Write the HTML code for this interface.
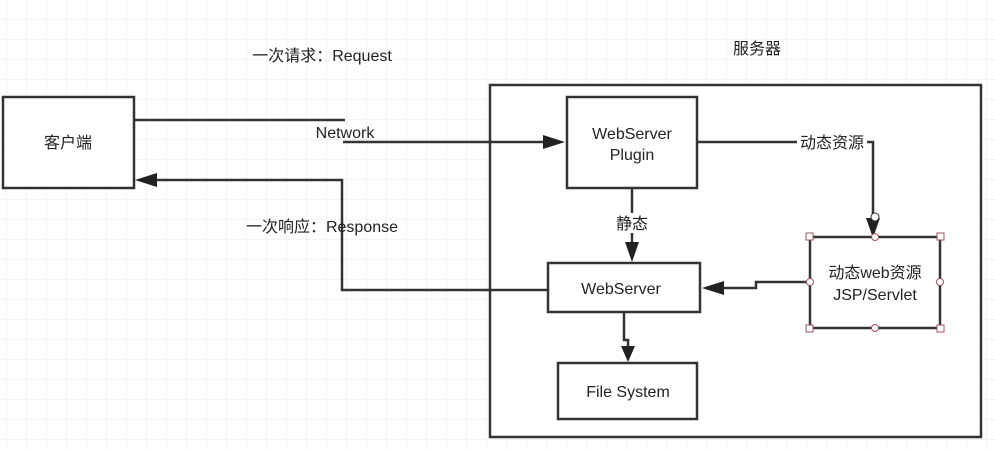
<!DOCTYPE html>
<html><head><meta charset="utf-8"><style>
html,body{margin:0;padding:0;background:#fff}
svg{display:block}
text{font-family:"Liberation Sans","Noto Sans CJK SC",sans-serif;font-size:16px;fill:#222}
</style></head><body>
<svg width="995" height="449" viewBox="0 0 995 449" xmlns="http://www.w3.org/2000/svg">
<defs>
<pattern id="g" width="20" height="20" patternUnits="userSpaceOnUse" x="7" y="0">
<path d="M20 0V20M0 20H20" fill="none" stroke="#e8e8e8" stroke-width="1"/>
</pattern>
<marker id="a" viewBox="0 0 10 10" refX="10" refY="5" markerWidth="6" markerHeight="6" orient="auto" markerUnits="userSpaceOnUse">
</marker>
</defs>
<rect width="995" height="449" fill="url(#g)"/>
<g fill="none" stroke="#333" stroke-width="2.5">
<rect x="3" y="97" width="131" height="91" fill="#fff"/>
<rect x="490" y="85" width="491" height="352" fill="#fff"/>
<rect x="567" y="97" width="130" height="91"/>
<rect x="548" y="263" width="152" height="49"/>
<rect x="558" y="363" width="139" height="56"/>
<rect x="810" y="237" width="130" height="91"/>
<path d="M134 120H345"/>
<path d="M343 142H545"/>
<path d="M548 290H342V180H155"/>
<path d="M697 142H873V222"/>
<path d="M632 188V242"/>
<path d="M810 282H756V288H722"/>
<path d="M624 312V340H628V348"/>
</g>
<g fill="#222">
<polygon points="565,142 543,135 543,149"/>
<polygon points="135,180 157,173 157,187"/>
<polygon points="873,238 866,218 880,218"/>
<polygon points="632,262 625,242 639,242"/>
<polygon points="702,288 724,281 724,295"/>
<polygon points="628,362 621,346 635,346"/>
</g>
<rect x="797" y="133" width="70" height="18" fill="#fff"/>
<rect x="610" y="213" width="44" height="20" fill="#fff"/>
<g fill="#fff" stroke="#a05060" stroke-width="1">
<rect x="806" y="233" width="7" height="7"/><rect x="937" y="233" width="7" height="7"/>
<rect x="806" y="325" width="7" height="7"/><rect x="937" y="325" width="7" height="7"/>
<circle cx="875" cy="237" r="3.5"/><circle cx="875" cy="328" r="3.5"/>
<circle cx="810" cy="282" r="3.5"/><circle cx="940" cy="282" r="3.5"/>
<circle cx="875" cy="217" r="4" stroke="#333"/>
</g>
<text x="68" y="148" text-anchor="middle">客户端</text>
<text x="322" y="61" text-anchor="middle">一次请求：Request</text>
<text x="757" y="54" text-anchor="middle">服务器</text>
<text x="345" y="138" text-anchor="middle">Network</text>
<text x="322" y="232" text-anchor="middle">一次响应：Response</text>
<text x="632" y="139" text-anchor="middle">WebServer</text>
<text x="632" y="160" text-anchor="middle">Plugin</text>
<text x="832" y="148" text-anchor="middle">动态资源</text>
<text x="632" y="229" text-anchor="middle">静态</text>
<text x="621" y="294" text-anchor="middle">WebServer</text>
<text x="628" y="397" text-anchor="middle">File System</text>
<text x="875" y="278" text-anchor="middle">动态web资源</text>
<text x="875" y="300" text-anchor="middle">JSP/Servlet</text>
</svg>
</body></html>
